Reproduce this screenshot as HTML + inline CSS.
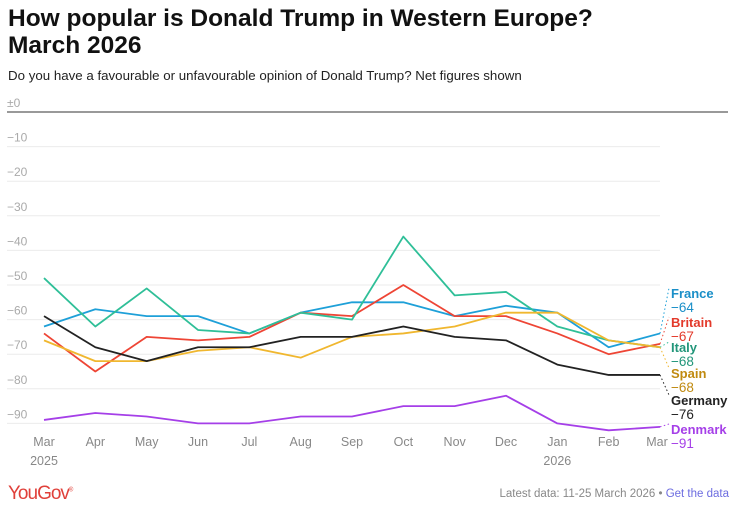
<!DOCTYPE html>
<html><head><meta charset="utf-8"><style>
body{margin:0;background:#fff;width:737px;height:510px;overflow:hidden;font-family:"Liberation Sans",sans-serif}
#title{position:absolute;left:8px;top:5px;font-size:24.5px;font-weight:bold;line-height:27px;color:#111;letter-spacing:0}
#sub{position:absolute;left:8px;top:68px;font-size:13.3px;color:#222}
#logo{position:absolute;left:8px;top:483px;font-size:19px;color:#e0403a;letter-spacing:-1px}
#foot{position:absolute;right:8px;top:488px;font-size:11.5px;color:#888}
#foot span{color:#6c6ce0}
svg{position:absolute;left:0;top:0}
</style></head><body>
<div id="title">How popular is Donald Trump in Western Europe?<br>March 2026</div>
<div id="sub">Do you have a favourable or unfavourable opinion of Donald Trump? Net figures shown</div>
<svg id="chart" width="737" height="510"></svg>
<div id="logo">YouGov<sup style="font-size:6px">®</sup></div>
<div id="foot">Latest data: 11-25 March 2026 • <span>Get the data</span></div>
<script>
const months=["Mar","Apr","May","Jun","Jul","Aug","Sep","Oct","Nov","Dec","Jan","Feb","Mar"];
const years=["2025","","","","","","","","","","2026","",""];
const yTicks=[0,-10,-20,-30,-40,-50,-60,-70,-80,-90];
const seriesNames=["France","Britain","Italy","Spain","Germany","Denmark"];
const france=[-62,-57,-59,-59,-64,-58,-55,-55,-59,-56,-58,-68,-64];
const britain=[-64,-75,-65,-66,-65,-58,-59,-50,-59,-59,-64,-70,-67];
const italy=[-48,-62,-51,-63,-64,-58,-60,-36,-53,-52,-62,-66,-68];
const spain=[-66,-72,-72,-69,-68,-71,-65,-64,-62,-58,-58,-66,-68];
const germany=[-59,-68,-72,-68,-68,-65,-65,-62,-65,-66,-73,-76,-76];
const denmark=[-89,-87,-88,-90,-90,-88,-88,-85,-85,-82,-90,-92,-91];
const data=[france,britain,italy,spain,germany,denmark];
const colors=["#1ea0d8","#ee4535","#2fbf98","#f0b72f","#222","#a53fe8"];
const labelColors=["#1a8fc8","#e33a2b","#22967a","#c08a10","#222","#a53fe8"];
const labelY=[298,327,352,378,405,434];
const ns="http://www.w3.org/2000/svg";
const svg=document.getElementById('chart');
const x=i=>44+i*(660-44)/12;
const y=v=>112-v*3.46;
function el(t,a){const e=document.createElementNS(ns,t);for(const k in a)e.setAttribute(k,a[k]);svg.appendChild(e);return e;}
yTicks.forEach(t=>{
 const l=el('line',{x1:7,x2:t===0?728:660,y1:y(t),y2:y(t),stroke:t===0?'#333':'#ebebeb','stroke-width':1});
 
 
 const tx=el('text',{x:7,y:y(t)-5,'font-size':12,fill:'#aaa'});
 tx.textContent=t===0?'±0':'−'+(-t);
 
 
});
months.forEach((m,i)=>{
 const t=el('text',{x:x(i)+(i===12?-3:0),y:446,'font-size':12.5,fill:'#888','text-anchor':'middle'});
 t.textContent=m;
 
 
 if(years[i]){const t2=el('text',{x:x(i),y:465,'font-size':12.5,fill:'#888','text-anchor':'middle'});t2.textContent=years[i];
 
 }
});
data.forEach((s,k)=>{
 const p=el('polyline',{points:s.map((v,i)=>x(i)+','+y(v)).join(' '),fill:'none',stroke:colors[k],'stroke-width':1.8,'stroke-linejoin':'round'});
 
 
 const last=s[s.length-1];
 const c=el('line',{x1:x(12),y1:y(last),x2:669,y2:labelY[k]-10,stroke:colors[k],'stroke-width':1,'stroke-dasharray':'1.5,2.5'});
 
 
 const n=el('text',{x:671,y:labelY[k],'font-size':13,'font-weight':'bold',fill:labelColors[k]});
 n.textContent=seriesNames[k];
 
 
 const v=el('text',{x:671,y:labelY[k]+14,'font-size':13.5,fill:labelColors[k]});
 v.textContent='−'+(-last);
 
 
});
</script>
</body></html>
